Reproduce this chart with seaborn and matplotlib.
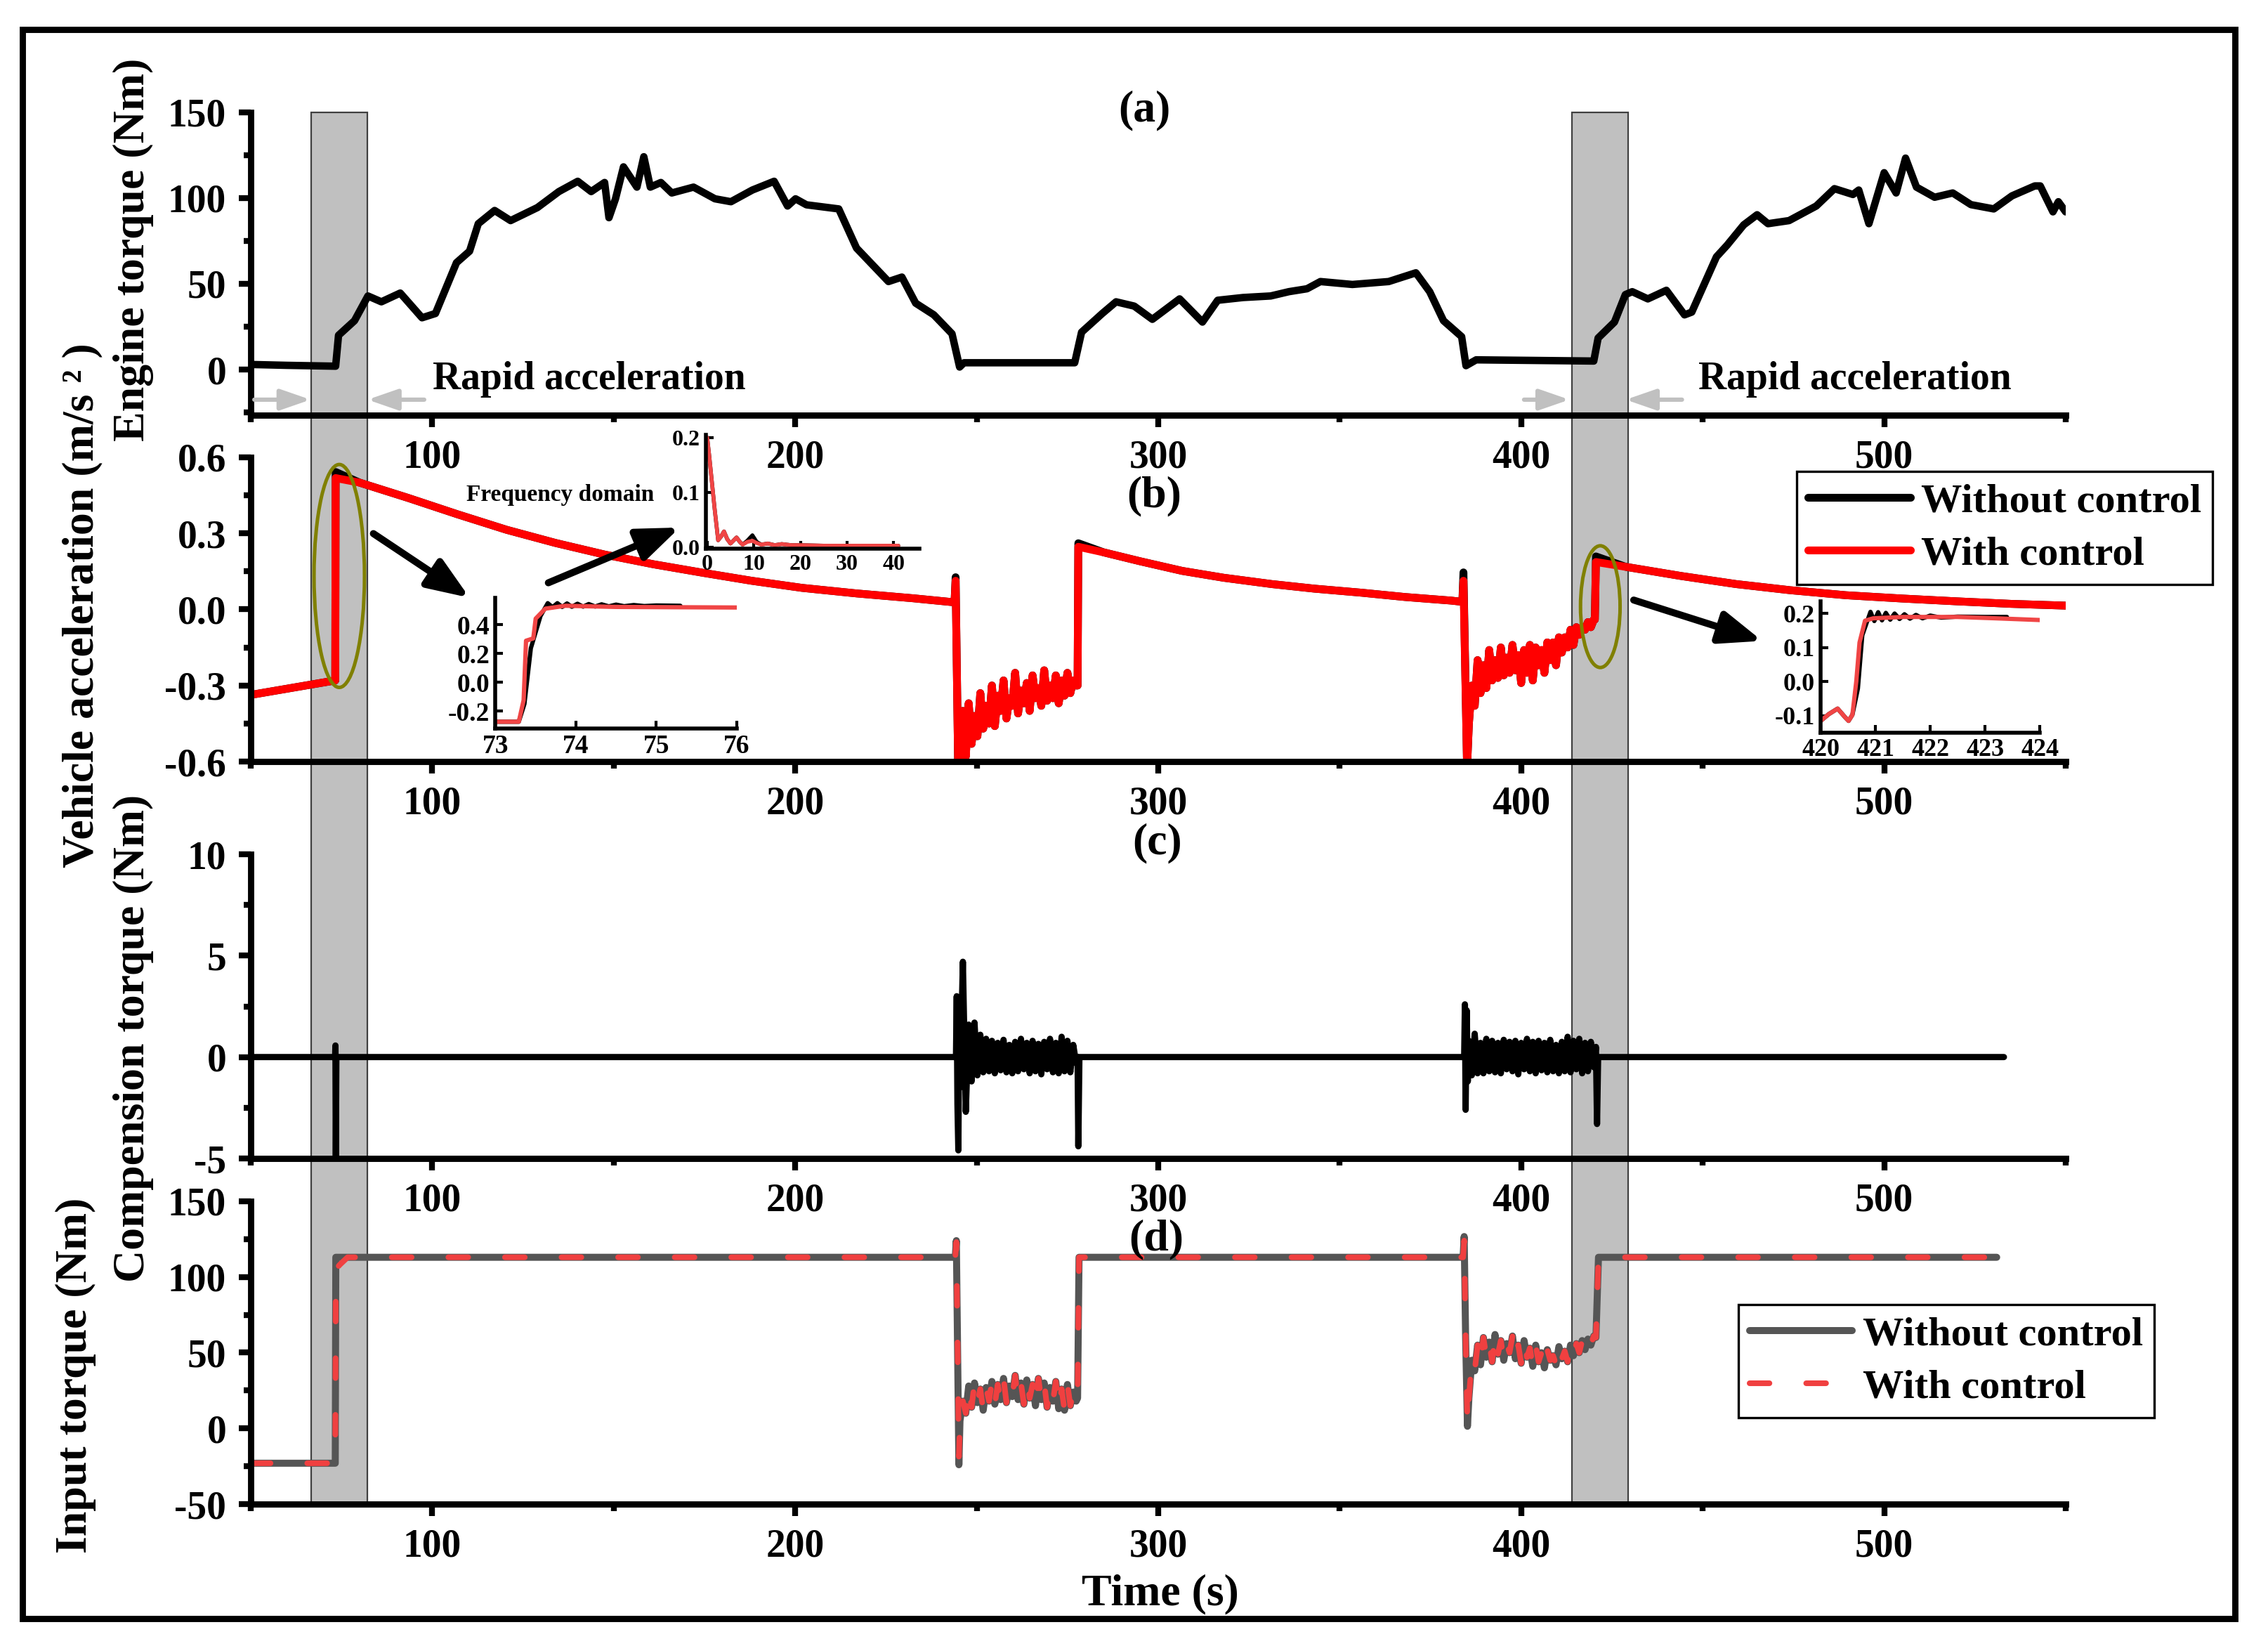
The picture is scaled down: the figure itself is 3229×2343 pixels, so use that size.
import matplotlib
matplotlib.use('Agg')
import matplotlib.pyplot as plt
import matplotlib.patches as mpatches
import matplotlib.transforms as mtransforms
from matplotlib.ticker import FormatStrFormatter
import seaborn as sns

sns.set_theme(style='ticks')
plt.rcParams['font.family'] = ['Liberation Serif', 'DejaVu Serif']
plt.rcParams['font.weight'] = 'bold'
plt.rcParams['axes.unicode_minus'] = False
for k in ['text.color', 'axes.labelcolor', 'xtick.color', 'ytick.color', 'axes.edgecolor']:
    plt.rcParams[k] = 'black'

# ---------------- data ----------------
# (a) engine torque
eng_t = [50, 60, 73.4, 74.2, 78.6, 82.3, 86, 91.2, 97.2, 100.9, 106.7, 110.3, 112.7, 117.2, 121.6, 129,
         134.9, 140.1, 143.8, 147.5, 148.7, 150.5, 152.7, 156.4, 158.3, 160.1, 163, 166, 172, 177.9, 182.3,
         188.2, 194.2, 197.9, 200.1, 203.1, 212, 216.9, 225.7, 229.4, 233.2, 238.2, 243.2, 245.3, 246.5,
         277, 278.9, 284.6, 288.4, 293.4, 298.4, 305.9, 312.2, 316.4, 323.4, 331, 336, 341, 344.7, 353.5,
         363.5, 371, 374.8, 378.6, 383.6, 384.8, 387.6, 420, 421.2, 425.7, 428.7, 430.6, 434.9, 440, 445,
         447, 453.8, 456.7, 461.3, 465, 468, 473.8, 481.3, 486.3, 491.4, 493, 495.8, 500, 503.3, 505.9,
         508.9, 513.9, 518.9, 523.9, 530.2, 535.2, 541.5, 543, 546.5, 548, 550]
eng_val = [3, 2.5, 2, 20, 28.5, 42.9, 39.5, 44.6, 30.2, 32.7, 62.3, 69, 85, 92.7, 86.8, 94.4,
           103.7, 109.7, 103.7, 109, 88.5, 99.5, 118.1, 106.3, 124, 106.3, 109, 102.9, 106.3, 99.5, 97.8,
           104.6, 109.7, 95.3, 99.5, 96, 93.6, 70.8, 51.3, 53.9, 38.7, 31.9, 20.9, 1.5, 4,
           4, 21.8, 32.7, 39.5, 37, 29.3, 41.2, 27.7, 40.4, 42, 42.9, 45.4, 47.1, 51.3, 49.6,
           51.3, 56.4, 45.4, 28.5, 19.2, 2.3, 5.7, 5, 18.4, 27.7, 43.7, 45.4, 41.2, 46.2, 31.9,
           33.5, 65.7, 72.4, 84.3, 90.2, 85, 86.8, 95.3, 105.4, 102, 104.6, 85, 114.7, 102.9, 123.2,
           106.3, 100.4, 102.9, 96.1, 93.6, 101.2, 107, 107, 91.9, 97.8, 91.9]

# time grids of the two oscillating stretches
t1 = [245.4, 246.2, 247.0, 247.8, 248.6, 249.4, 250.2, 251.0, 251.8, 252.6, 253.4, 254.2, 255.0, 255.8,
      256.6, 257.4, 258.2, 259.0, 259.8, 260.6, 261.4, 262.2, 263.0, 263.8, 264.6, 265.4, 266.2, 267.0,
      267.8, 268.6, 269.4, 270.2, 271.0, 271.8, 272.6, 273.4, 274.2, 275.0, 275.8, 276.6, 277.4]
t2 = [385.6, 386.4, 387.2, 388.0, 388.8, 389.6, 390.4, 391.2, 392.0, 392.8, 393.6, 394.4, 395.2, 396.0,
      396.8, 397.6, 398.4, 399.2, 400.0, 400.8, 401.6, 402.4, 403.2, 404.0, 404.8, 405.6, 406.4, 407.2,
      408.0, 408.8, 409.6, 410.4, 411.2, 412.0, 412.8, 413.6, 414.4, 415.2, 416.0, 416.8, 417.6, 418.4,
      419.2, 420.0]

# (b) vehicle acceleration
acc_t_head = [50, 73.3, 73.4, 80, 93.3, 107, 120.5, 134, 147.6, 161, 174.8, 188, 201.9, 217, 232.5,
              243.9, 244.2, 244.9]
acc_with_head = [-0.337, -0.28, 0.518, 0.50, 0.44, 0.375, 0.314, 0.262, 0.216, 0.178, 0.144, 0.113,
                 0.085, 0.063, 0.044, 0.028, 0.113, -0.62]
acc_without_head = [-0.337, -0.28, 0.542, 0.50, 0.44, 0.375, 0.314, 0.262, 0.216, 0.178, 0.144, 0.113,
                    0.085, 0.063, 0.044, 0.028, 0.127, -0.62]
acc_seg1 = [-0.48, -0.40, -0.58, -0.37, -0.53, -0.42, -0.50, -0.33, -0.47, -0.38, -0.45, -0.30, -0.46,
            -0.34, -0.40, -0.28, -0.43, -0.35, -0.38, -0.25, -0.41, -0.32, -0.37, -0.29, -0.40, -0.26,
            -0.35, -0.31, -0.38, -0.24, -0.36, -0.30, -0.35, -0.26, -0.37, -0.28, -0.34, -0.25, -0.33,
            -0.28, -0.30]
acc_t_mid = [277.8, 278.0, 285, 295, 306.6, 318, 331.3, 343, 356, 368, 380.6, 383.8, 384.1, 385.1]
acc_with_mid = [-0.30, 0.247, 0.225, 0.19, 0.152, 0.125, 0.10, 0.082, 0.066, 0.049, 0.035, 0.03,
                0.113, -0.62]
acc_without_mid = [-0.30, 0.261, 0.225, 0.19, 0.152, 0.125, 0.10, 0.082, 0.066, 0.049, 0.035, 0.03,
                   0.146, -0.62]
acc_seg2 = [-0.45, -0.30, -0.38, -0.20, -0.33, -0.22, -0.31, -0.16, -0.28, -0.20, -0.27, -0.15, -0.26,
            -0.19, -0.25, -0.14, -0.24, -0.18, -0.29, -0.16, -0.25, -0.14, -0.28, -0.15, -0.22, -0.16,
            -0.25, -0.13, -0.20, -0.13, -0.22, -0.11, -0.17, -0.11, -0.15, -0.08, -0.14, -0.07, -0.10,
            -0.07, -0.08, -0.05, -0.07, -0.04]
acc_t_tail = [420.3, 420.6, 428.8, 444, 459.2, 474, 489.5, 505, 519.9, 535, 550]
acc_with_tail = [-0.04, 0.187, 0.168, 0.132, 0.10, 0.076, 0.056, 0.043, 0.032, 0.022, 0.015]
acc_without_tail = [-0.04, 0.209, 0.168, 0.132, 0.10, 0.076, 0.056, 0.043, 0.032, 0.022, 0.015]

# (c) compensation torque
comp_t_head = [50, 73.25, 73.35, 73.45, 73.6, 244.3, 244.5, 244.7, 244.95, 245.2]
comp_head = [0, 0, 0.57, -5.3, 0, 0, 3.0, -2.3, -4.6, 2.0]
comp_seg1 = [-1.5, 4.7, -2.7, 1.6, -1.2, 1.7, -0.9, 1.1,
             -0.75, 0.9, -0.7, 0.8, -0.8, 0.7, -0.65, 0.85, -0.75, 0.6, -0.8, 0.75, -0.7, 0.9, -0.6,
             0.7, -0.8, 0.8, -0.7, 0.65, -0.85, 0.75, -0.6, 0.9, -0.75, 0.7, -0.8, 1.0, -0.7, 0.8,
             -0.75, 0.6, -0.3]
comp_t_mid = [277.8, 278.0, 278.3, 384.3, 384.5, 384.7, 385.0, 385.3]
comp_mid = [0, -4.4, 0, 0, 2.6, -2.6, 2.3, -1.2]
comp_seg2 = [0.8, -0.9, 1.15, -0.8, 0.7,
             -0.8, 0.9, -0.7, 0.8, -0.75, 0.7, -0.8, 0.85, -0.6, 0.75, -0.7, 0.8, -0.85, 0.7, -0.6,
             0.9, -0.7, 0.75, -0.8, 0.8, -0.65, 0.7, -0.75, 0.85, -0.7, 0.6, -0.8, 0.75, -0.7, 1.0,
             -0.75, 0.8, -0.6, 0.9, -0.8, 0.7, -0.7, 0.75, -0.5]
comp_t_tail = [420.6, 420.9, 421.2, 533]
comp_tail = [0.5, -3.3, 0, 0]

# (d) input torque
inp_t_head = [50, 73.3, 73.45, 74.5, 76.7, 244.1, 244.4, 245.1]
inp_with_head = [-23, -23, 105, 108, 113, 113, 123, -18.6]
inp_without_head = [-23, -23, 113, 113, 113, 113, 124, -24]
inp_seg1 = [5, 18, 10, 28, 14, 30, 17, 26, 12, 27, 18, 31, 16, 29, 19, 33, 17, 28, 21, 35, 19, 30, 16,
            32, 20, 29, 15, 33, 19, 30, 14, 27, 18, 31, 13, 26, 12, 29, 15, 24, 18]
inp_t_mid = [277.8, 278.2, 384.0, 384.3, 384.7, 385.2]
inp_with_mid = [20, 113, 113, 124, 60, 3]
inp_without_mid = [20, 113, 113, 126.7, 60, 1.4]
inp_seg2 = [20, 45, 38, 55, 42, 60, 47, 57, 44, 62, 49, 58, 45, 56, 50, 61, 46, 55, 43, 58, 47, 53, 41,
            55, 44, 50, 40, 52, 45, 48, 42, 54, 46, 51, 44, 55, 48, 56, 50, 58, 52, 59, 55, 61]
inp_t_tail = [420.6, 421.3, 531]
inp_tail = [60, 113, 113]

# inset: time domain around 73 s
ins1_t_with = [73.0, 73.29, 73.35, 73.38, 73.47, 73.5, 73.62, 73.87, 74.5, 75.2, 76.0]
ins1_with = [-0.273, -0.273, -0.124, 0.288, 0.304, 0.441, 0.51, 0.53, 0.522, 0.52, 0.518]
ins1_t_without = [73.0, 73.29, 73.36, 73.44, 73.56, 73.65, 73.71, 73.77, 73.83, 73.89, 73.95, 74.02,
                  74.09, 74.16, 74.24, 74.32, 74.41, 74.5, 74.6, 74.72, 74.85, 75.0, 75.3]
ins1_without = [-0.273, -0.273, -0.15, 0.236, 0.459, 0.548, 0.52, 0.548, 0.522, 0.546, 0.523, 0.544,
                0.524, 0.542, 0.525, 0.54, 0.526, 0.538, 0.527, 0.535, 0.528, 0.532, 0.53]

# inset: frequency domain
freq = [0.0, 0.4, 1.0, 1.6, 2.35, 3.0, 3.6, 4.3, 5.0, 5.6, 6.3, 7.0, 7.6, 8.6, 9.7, 10.6, 11.6, 13,
        14.5, 16, 18, 20, 25, 30, 35, 41]
amp_with = [0.2, 0.17, 0.12, 0.07, 0.013, 0.02, 0.029, 0.015, 0.007, 0.012, 0.018, 0.01, 0.005, 0.01,
            0.012, 0.008, 0.005, 0.007, 0.004, 0.006, 0.004, 0.004, 0.003, 0.003, 0.003, 0.003]
amp_without = [0.2, 0.17, 0.12, 0.07, 0.013, 0.02, 0.029, 0.015, 0.007, 0.012, 0.018, 0.01, 0.005, 0.012,
               0.022, 0.01, 0.005, 0.007, 0.004, 0.006, 0.004, 0.004, 0.003, 0.003, 0.003, 0.003]

# inset: time domain around 420 s
ins3_t_with = [420.0, 420.15, 420.31, 420.45, 420.51, 420.58, 420.65, 420.71, 420.81, 420.96, 421.5,
               422.5, 423.2, 424.0]
ins3_with = [-0.115, -0.095, -0.079, -0.105, -0.115, -0.097, 0.0, 0.115, 0.179, 0.186, 0.19, 0.19,
             0.186, 0.181]
ins3_t_without = [420.0, 420.15, 420.31, 420.45, 420.51, 420.58, 420.68, 420.76, 420.91, 420.98, 421.05,
                  421.12, 421.19, 421.27, 421.35, 421.44, 421.53, 421.63, 421.74, 421.86, 422.0, 422.2,
                  422.5, 423.0, 423.4]
ins3_without = [-0.115, -0.095, -0.079, -0.105, -0.115, -0.097, -0.02, 0.136, 0.205, 0.178, 0.204, 0.18,
                0.202, 0.182, 0.2, 0.184, 0.198, 0.185, 0.196, 0.186, 0.194, 0.188, 0.191, 0.19, 0.19]

shade_spans = [(66.7, 82.2), (414.0, 429.5)]

acc_t = acc_t_head + t1 + acc_t_mid + t2 + acc_t_tail
acc_with = acc_with_head + acc_seg1 + acc_with_mid + acc_seg2 + acc_with_tail
acc_without = acc_without_head + acc_seg1 + acc_without_mid + acc_seg2 + acc_without_tail
comp_t = comp_t_head + t1 + comp_t_mid + t2 + comp_t_tail
comp = comp_head + comp_seg1 + comp_mid + comp_seg2 + comp_tail
inp_t = inp_t_head + t1 + inp_t_mid + t2 + inp_t_tail
inp_with = inp_with_head + inp_seg1 + inp_with_mid + inp_seg2 + inp_tail
inp_without = inp_without_head + inp_seg1 + inp_without_mid + inp_seg2 + inp_tail


def draw(ax, t, v, **kw):
    sns.lineplot(x=t, y=v, ax=ax, estimator=None, sort=False, **kw)
    return ax.lines[-1]


def style_main(ax, ylim, yticks, yminor):
    ax.set_facecolor('none')
    ax.grid(False)
    for s in ['top', 'right']:
        ax.spines[s].set_visible(False)
    for s in ['left', 'bottom']:
        ax.spines[s].set_linewidth(3.2)
        ax.spines[s].set_color('black')
    ax.set_xlim(50, 550)
    ax.set_ylim(*ylim)
    ax.set_xticks([100, 200, 300, 400, 500])
    ax.set_xticks([50, 150, 250, 350, 450, 550], minor=True)
    ax.set_yticks(yticks)
    ax.set_yticks(yminor, minor=True)
    ax.tick_params(which='major', direction='out', length=6, width=3, labelsize=20, pad=6.5)
    ax.tick_params(which='minor', direction='out', length=3.5, width=3)
    ax.set_xlabel('')
    ax.set_ylabel('')


def style_inset(ax, xlim, ylim, xticks, yticks, fs, fmt):
    ax.set_facecolor('none')
    ax.grid(False)
    for s in ['top', 'right']:
        ax.spines[s].set_visible(False)
    for s in ['left', 'bottom']:
        ax.spines[s].set_linewidth(2.0)
        ax.spines[s].set_color('black')
    ax.set_xlim(*xlim)
    ax.set_ylim(*ylim)
    ax.set_xticks(xticks)
    ax.set_yticks(yticks)
    ax.yaxis.set_major_formatter(FormatStrFormatter(fmt))
    ax.tick_params(direction='in', length=4, width=1.5, labelsize=fs, pad=3)
    ax.set_xlabel('')
    ax.set_ylabel('')


def make_legend(ax, handles, anchor):
    leg = ax.legend(handles=handles, labels=['Without control', 'With control'], loc='upper left',
                    bbox_to_anchor=anchor, bbox_transform=fig.transFigure, fontsize=21,
                    frameon=True, fancybox=False, edgecolor='black', framealpha=1, borderpad=0.28,
                    handlelength=2.5, handletextpad=0.25, labelspacing=0.38, borderaxespad=0)
    leg.get_frame().set_linewidth(1.2)
    return leg


fig = plt.figure(figsize=(16.15, 11.715), dpi=200)
L, W = 0.1105, 0.8
ax_a = fig.add_axes([L, 0.7478, W, 0.1841])
ax_b = fig.add_axes([L, 0.5373, W, 0.1849])
ax_c = fig.add_axes([L, 0.2962, W, 0.1848])
ax_d = fig.add_axes([L, 0.0862, W, 0.1840])

# (a)
draw(ax_a, eng_t, eng_val, color='black', linewidth=3.8)
style_main(ax_a, (-26.5, 150), [0, 50, 100, 150], [-25, 25, 75, 125])
for x0, x1 in [(51, 66.5), (97.8, 82.2), (400.8, 413.3), (444.3, 428.8)]:
    ax_a.annotate('', xy=(x1, -17.5), xytext=(x0, -17.5),
                  arrowprops=dict(arrowstyle='-|>,head_length=1.3,head_width=0.45', color='#c0c0c0',
                                  lw=2.2, mutation_scale=10, shrinkA=0, shrinkB=0))
ax_a.text(100.1, -11.2, 'Rapid acceleration', fontsize=20, ha='left', va='baseline')
ax_a.text(448.8, -11.2, 'Rapid acceleration', fontsize=20, ha='left', va='baseline')

# (b)
h_wo = draw(ax_b, acc_t, acc_without, color='black', linewidth=4.0, label='Without control')
h_w = draw(ax_b, acc_t, acc_with, color='#ff0000', linewidth=4.0, label='With control')
style_main(ax_b, (-0.6, 0.6), [-0.6, -0.3, 0.0, 0.3, 0.6], [-0.45, -0.15, 0.15, 0.45])
ax_b.yaxis.set_major_formatter(FormatStrFormatter('%.1f'))
ax_b.add_patch(mpatches.Ellipse((74.4, 0.132), 13.9, 0.879, fill=False, edgecolor='#808000', lw=1.8,
                                zorder=5))
ax_b.add_patch(mpatches.Ellipse((421.8, 0.011), 10.9, 0.48, fill=False, edgecolor='#808000', lw=1.8,
                                zorder=5))
for (x0, y0), (x1, y1) in [((83.8, 0.299), (110.3, 0.046)), ((132, 0.105), (168.2, 0.323)),
                           ((431, 0.037), (466.4, -0.124))]:
    ax_b.annotate('', xy=(x1, y1), xytext=(x0, y0),
                  arrowprops=dict(arrowstyle='-|>,head_length=0.9,head_width=0.35', color='black',
                                  lw=3.6, mutation_scale=20, shrinkA=0, shrinkB=0), zorder=6)
make_legend(ax_b, [h_wo, h_w], (0.792, 0.7136))

# (c)
draw(ax_c, comp_t, comp, color='black', linewidth=3.2)
style_main(ax_c, (-5, 10), [-5, 0, 5, 10], [-2.5, 2.5, 7.5])

# (d)
dash = (0, (3.5, 6.5))
g_wo = draw(ax_d, inp_t, inp_without, color='#555555', linewidth=3.6, solid_capstyle='round',
            label='Without control')
g_w = draw(ax_d, inp_t, inp_with, color='#f04040', linewidth=2.9, linestyle=dash,
           dash_capstyle='round', label='With control')
style_main(ax_d, (-50, 150), [-50, 0, 50, 100, 150], [-25, 25, 75, 125])
make_legend(ax_d, [g_wo, g_w], (0.7663, 0.2074))

# insets
in1 = fig.add_axes([0.2184, 0.5574, 0.1063, 0.0794])
draw(in1, ins1_t_without, ins1_without, color='black', linewidth=2.2)
draw(in1, ins1_t_with, ins1_with, color='#f04545', linewidth=2.2)
style_inset(in1, (73, 76), (-0.32, 0.585), [73, 74, 75, 76], [-0.2, 0.0, 0.2, 0.4], 13.5, '%.1f')

in2 = fig.add_axes([0.3111, 0.6668, 0.0941, 0.0690])
draw(in2, freq, amp_without, color='black', linewidth=2.0)
draw(in2, freq, amp_with, color='#f04545', linewidth=2.0)
style_inset(in2, (-0.3, 45.5), (-0.002, 0.205), [0, 10, 20, 30, 40], [0.0, 0.1, 0.2], 11.5, '%.1f')
fig.text(798 / 3230, 1 - 705 / 2343, 'Frequency domain', fontsize=12, ha='center', va='center')

in3 = fig.add_axes([0.8025, 0.5550, 0.0966, 0.0797])
draw(in3, ins3_t_without, ins3_without, color='black', linewidth=2.2)
draw(in3, ins3_t_with, ins3_with, color='#f04545', linewidth=2.2)
style_inset(in3, (420, 424), (-0.149, 0.236), [420, 421, 422, 423, 424], [-0.1, 0.0, 0.1, 0.2], 13,
            '%.1f')

# shaded rapid-acceleration windows spanning all panels
blend = mtransforms.blended_transform_factory(ax_a.transData, fig.transFigure)
for x0, x1 in shade_spans:
    fig.add_artist(mpatches.Rectangle((x0, 0.0862), x1 - x0, 0.9319 - 0.0862, transform=blend,
                                      facecolor='#c0c0c0', edgecolor='#404040', lw=0.8, zorder=-1))

# labels
fig.text(0.0588, 0.8485, 'Engine torque (Nm)', rotation=90, fontsize=23, ha='center', va='center')
fig.text(0.0365, 0.6321, 'Vehicle acceleration (m/s \u00b2 )', rotation=90, fontsize=23, ha='center',
         va='center')
fig.text(0.0588, 0.3692, 'Compension torque (Nm)', rotation=90, fontsize=23, ha='center', va='center')
fig.text(0.0334, 0.1643, 'Input torque (Nm)', rotation=90, fontsize=23, ha='center', va='center')
fig.text(0.5115, 0.0315, 'Time (s)', fontsize=23, ha='center', va='center')
for lab, x, y in [('(a)', 0.5046, 0.9326), ('(b)', 0.5087, 0.6983), ('(c)', 0.5102, 0.4878),
                  ('(d)', 0.5096, 0.2471)]:
    fig.text(x, y, lab, fontsize=23, ha='center', va='center')

# outer frame
fig.add_artist(mpatches.Rectangle((0.0099, 0.01665), 0.9752, 0.9654, transform=fig.transFigure,
                                  fill=False, edgecolor='black', lw=3.2, zorder=10))

fig.savefig('out.png', dpi=200)
